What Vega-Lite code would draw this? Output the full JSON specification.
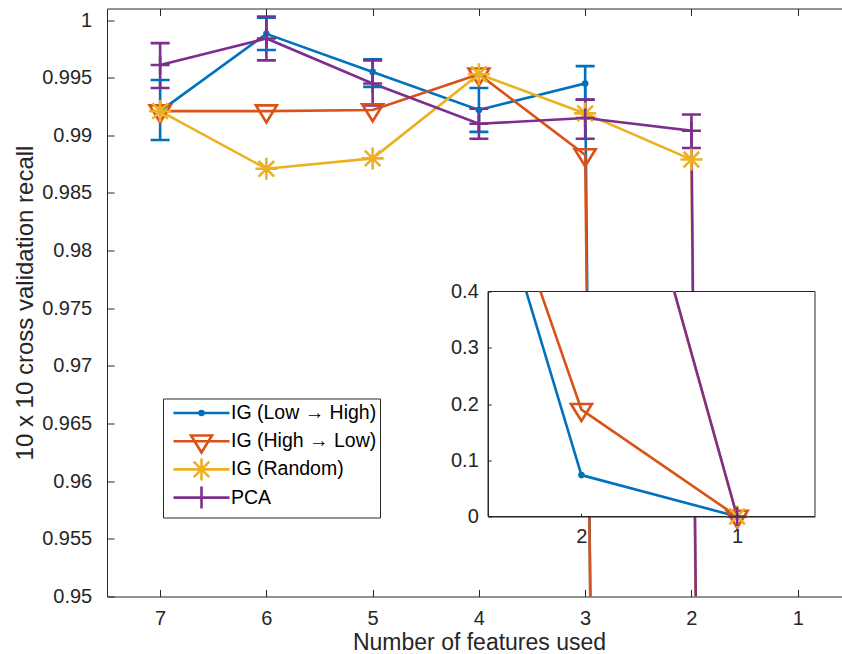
{
  "$schema": "https://vega.github.io/schema/vega-lite/v6.json",
  "autosize": {"type": "pad"},
  "padding": {"left": 13, "top": 7.5, "right": 0, "bottom": 0},
  "background": "white",
  "bounds": "flush",
  "spacing": 0,
  "config": {
    "view": {"stroke": null},
    "font": "Liberation Sans",
    "axis": {
      "domainColor": "#262626", "tickColor": "#262626", "labelColor": "#262626", "titleColor": "#262626",
      "labelFont": "Liberation Sans", "titleFont": "Liberation Sans", "labelFontSize": 20, "titleFontSize": 24,
      "titleFontWeight": "normal", "grid": false, "domainWidth": 1, "tickWidth": 1,
      "labelFlush": false, "labelOverlap": false
    },
    "line": {"strokeWidth": 2.6},
    "rule": {"strokeWidth": 2.6},
    "point": {"strokeWidth": 2.6, "filled": false, "opacity": 1}
  },
  "datasets": {
    "recall": [
      {"series": "IG (Low → High)", "n": 7, "recall": 0.9921, "lo": 0.9896, "hi": 0.9948},
      {"series": "IG (Low → High)", "n": 6, "recall": 0.9988, "lo": 0.9974, "hi": 1.0002},
      {"series": "IG (Low → High)", "n": 5, "recall": 0.9955, "lo": 0.9942, "hi": 0.9966},
      {"series": "IG (Low → High)", "n": 4, "recall": 0.9922, "lo": 0.9903, "hi": 0.9941},
      {"series": "IG (Low → High)", "n": 3, "recall": 0.9945, "lo": 0.9931, "hi": 0.996},
      {"series": "IG (Low → High)", "n": 2, "recall": 0.0736, "lo": null, "hi": null},
      {"series": "IG (Low → High)", "n": 1, "recall": 0, "lo": null, "hi": null},
      {"series": "IG (High → Low)", "n": 7, "recall": 0.9921, "lo": null, "hi": null},
      {"series": "IG (High → Low)", "n": 6, "recall": 0.9921, "lo": null, "hi": null},
      {"series": "IG (High → Low)", "n": 5, "recall": 0.9922, "lo": null, "hi": null},
      {"series": "IG (High → Low)", "n": 4, "recall": 0.9953, "lo": null, "hi": null},
      {"series": "IG (High → Low)", "n": 3, "recall": 0.9883, "lo": null, "hi": null},
      {"series": "IG (High → Low)", "n": 2, "recall": 0.19, "lo": null, "hi": null},
      {"series": "IG (High → Low)", "n": 1, "recall": 0, "lo": null, "hi": null},
      {"series": "IG (Random)", "n": 7, "recall": 0.9921, "lo": null, "hi": null},
      {"series": "IG (Random)", "n": 6, "recall": 0.9871, "lo": null, "hi": null},
      {"series": "IG (Random)", "n": 5, "recall": 0.988, "lo": null, "hi": null},
      {"series": "IG (Random)", "n": 4, "recall": 0.9953, "lo": null, "hi": null},
      {"series": "IG (Random)", "n": 3, "recall": 0.9919, "lo": null, "hi": null},
      {"series": "IG (Random)", "n": 2, "recall": 0.9879, "lo": null, "hi": null},
      {"series": "IG (Random)", "n": 1, "recall": 0, "lo": null, "hi": null},
      {"series": "PCA", "n": 7, "recall": 0.9961, "lo": 0.9941, "hi": 0.998},
      {"series": "PCA", "n": 6, "recall": 0.9984, "lo": 0.9965, "hi": 1.0003},
      {"series": "PCA", "n": 5, "recall": 0.9945, "lo": 0.9926, "hi": 0.9965},
      {"series": "PCA", "n": 4, "recall": 0.991, "lo": 0.9897, "hi": 0.9923},
      {"series": "PCA", "n": 3, "recall": 0.9915, "lo": 0.9897, "hi": 0.9931},
      {"series": "PCA", "n": 2, "recall": 0.9904, "lo": 0.9889, "hi": 0.9918},
      {"series": "PCA", "n": 1, "recall": 0, "lo": null, "hi": null}
    ]
  },
  "resolve": {"scale": {"color": "independent"}},
  "vconcat": [
    {
      "width": 735,
      "height": 283,
      "data": {"name": "recall"},
      "layer": [
        {
          "mark": {"type": "line", "clip": true},
          "encoding": {
            "x": {"field": "n", "type": "quantitative",
              "scale": {"domain": [0.583, 7.5], "reverse": true, "nice": false, "zero": false},
              "axis": {"orient": "top", "values": [1, 2, 3, 4, 5, 6, 7], "labels": false, "tickSize": -7, "title": null}},
            "y": {"field": "recall", "type": "quantitative",
              "scale": {"domain": [0.976454, 1.001], "nice": false, "zero": false},
              "axis": {"values": [0.98, 0.985, 0.99, 0.995, 1], "format": "~g",
                "tickSize": -7, "labelPadding": 22.3, "title": "10 x 10 cross validation recall",
                "titleX": -75, "titleY": 294, "titleAngle": -90, "titleAlign": "center", "titleBaseline": "alphabetic"}},
            "color": {"field": "series", "type": "nominal", "legend": null,
              "scale": {"domain": ["IG (Low → High)", "IG (High → Low)", "IG (Random)", "PCA"], "range": ["#0072BD", "#D95319", "#EDB120", "#7E2F8E"]}}
          }
        },
        {
          "transform": [{"filter": "datum.lo != null"}],
          "mark": {"type": "rule", "clip": true},
          "encoding": {
            "x": {"field": "n", "type": "quantitative", "scale": {"domain": [0.583, 7.5], "reverse": true, "nice": false, "zero": false}},
            "y": {"field": "lo", "type": "quantitative", "scale": {"domain": [0.976454, 1.001], "nice": false, "zero": false}},
            "y2": {"field": "hi"},
            "color": {"field": "series", "type": "nominal", "legend": null}
          }
        },
        {
          "transform": [{"filter": "datum.lo != null"}],
          "mark": {"type": "point", "clip": true, "size": 361, "shape": "M-1,0H1"},
          "encoding": {
            "x": {"field": "n", "type": "quantitative", "scale": {"domain": [0.583, 7.5], "reverse": true, "nice": false, "zero": false}},
            "y": {"field": "lo", "type": "quantitative", "scale": {"domain": [0.976454, 1.001], "nice": false, "zero": false}},
            "color": {"field": "series", "type": "nominal", "legend": null}
          }
        },
        {
          "transform": [{"filter": "datum.hi != null"}],
          "mark": {"type": "point", "clip": true, "size": 361, "shape": "M-1,0H1"},
          "encoding": {
            "x": {"field": "n", "type": "quantitative", "scale": {"domain": [0.583, 7.5], "reverse": true, "nice": false, "zero": false}},
            "y": {"field": "hi", "type": "quantitative", "scale": {"domain": [0.976454, 1.001], "nice": false, "zero": false}},
            "color": {"field": "series", "type": "nominal", "legend": null}
          }
        },
        {
          "transform": [{"filter": "datum.series === 'IG (Low → High)'"}],
          "mark": {"type": "point", "clip": true, "size": 400, "color": "#0072BD", "shape": "M-0.2,0A0.2,0.2,0,1,1,0.2,0A0.2,0.2,0,1,1,-0.2,0"},
          "encoding": {
            "x": {"field": "n", "type": "quantitative", "scale": {"domain": [0.583, 7.5], "reverse": true, "nice": false, "zero": false}},
            "y": {"field": "recall", "type": "quantitative", "scale": {"domain": [0.976454, 1.001], "nice": false, "zero": false}}
          }
        },
        {
          "transform": [{"filter": "datum.series === 'IG (High → Low)'"}],
          "mark": {"type": "point", "clip": true, "size": 400, "color": "#D95319", "shape": "M-1.05,-0.57L1.05,-0.57L0,1.13Z"},
          "encoding": {
            "x": {"field": "n", "type": "quantitative", "scale": {"domain": [0.583, 7.5], "reverse": true, "nice": false, "zero": false}},
            "y": {"field": "recall", "type": "quantitative", "scale": {"domain": [0.976454, 1.001], "nice": false, "zero": false}}
          }
        },
        {
          "transform": [{"filter": "datum.series === 'IG (Random)'"}],
          "mark": {"type": "point", "clip": true, "size": 400, "color": "#EDB120", "shape": "M-1.1,0H1.1M0,-1.1V1.1M-0.78,-0.78L0.78,0.78M-0.78,0.78L0.78,-0.78"},
          "encoding": {
            "x": {"field": "n", "type": "quantitative", "scale": {"domain": [0.583, 7.5], "reverse": true, "nice": false, "zero": false}},
            "y": {"field": "recall", "type": "quantitative", "scale": {"domain": [0.976454, 1.001], "nice": false, "zero": false}}
          }
        },
        {
          "transform": [{"filter": "datum.series === 'PCA'"}],
          "mark": {"type": "point", "clip": true, "size": 400, "color": "#7E2F8E", "shape": "M-0.95,0H0.95M0,-0.95V0.95"},
          "encoding": {
            "x": {"field": "n", "type": "quantitative", "scale": {"domain": [0.583, 7.5], "reverse": true, "nice": false, "zero": false}},
            "y": {"field": "recall", "type": "quantitative", "scale": {"domain": [0.976454, 1.001], "nice": false, "zero": false}}
          }
        }
      ]
    },
    {
      "width": 735,
      "height": 305,
      "resolve": {"scale": {"x": "independent", "y": "independent"}},
      "layer": [
        {
          "data": {"name": "recall"},
          "layer": [
            {
              "mark": {"type": "line", "clip": true},
              "encoding": {
                "x": {"field": "n", "type": "quantitative",
                  "scale": {"domain": [0.583, 7.5], "reverse": true, "nice": false, "zero": false},
                  "axis": {"orient": "bottom", "values": [1, 2, 3, 4, 5, 6, 7], "format": "d", "tickSize": -7, "labelPadding": 19,
                    "title": "Number of features used", "titleFontSize": 23, "titleX": 372, "titleY": 52.5, "titleBaseline": "alphabetic", "titleAlign": "center"}},
                "y": {"field": "recall", "type": "quantitative",
                  "scale": {"domain": [0.95, 0.976454], "nice": false, "zero": false},
                  "axis": {"orient": "left", "values": [0.95, 0.955, 0.96, 0.965, 0.97, 0.975], "format": "~g",
                    "tickSize": -7, "labelPadding": 22.3, "title": null}},
                "color": {"field": "series", "type": "nominal",
                  "scale": {"domain": ["IG (Low → High)", "IG (High → Low)", "IG (Random)", "PCA"], "range": ["#0072BD", "#D95319", "#EDB120", "#7E2F8E"]},
                  "legend": {
                    "orient": "none", "legendX": 56, "legendY": 107, "title": null,
                    "strokeColor": "#262626", "fillColor": "white", "padding": 3,
                    "labelFont": "Liberation Sans", "labelFontSize": 19.5, "labelColor": "black",
                    "symbolSize": 400, "symbolStrokeWidth": 2.6, "symbolFillColor": "transparent",
                    "symbolType": {"expr": "datum.value === 'PCA' ? 'M0,-1.1M0,1.1M-2.8,0H2.8M0,-1.1V1.1' : datum.value === 'IG (Random)' ? 'M0,-1.1M0,1.1M-2.8,0H2.8M0,-1.1V1.1M-0.78,-0.78L0.78,0.78M-0.78,0.78L0.78,-0.78' : datum.value === 'IG (High → Low)' ? 'M0,-1.1M0,1.1M-2.8,0H2.8M-1.05,-0.57L1.05,-0.57L0,1.13Z' : 'M0,-1.1M0,1.1M-2.8,0H2.8M-0.2,0A0.2,0.2,0,1,1,0.2,0A0.2,0.2,0,1,1,-0.2,0'"},
                    "symbolOffset": 24, "labelOffset": 18, "rowPadding": -4.8
                  }}
              }
            },
            {
              "transform": [{"filter": "datum.lo != null"}],
              "mark": {"type": "rule", "clip": true},
              "encoding": {
                "x": {"field": "n", "type": "quantitative", "scale": {"domain": [0.583, 7.5], "reverse": true, "nice": false, "zero": false}},
                "y": {"field": "lo", "type": "quantitative", "scale": {"domain": [0.95, 0.976454], "nice": false, "zero": false}},
                "y2": {"field": "hi"},
                "color": {"field": "series", "type": "nominal", "legend": null}
              }
            },
            {
              "transform": [{"filter": "datum.series === 'IG (Low → High)'"}],
              "mark": {"type": "point", "clip": true, "size": 400, "color": "#0072BD", "shape": "M-0.2,0A0.2,0.2,0,1,1,0.2,0A0.2,0.2,0,1,1,-0.2,0"},
              "encoding": {
                "x": {"field": "n", "type": "quantitative", "scale": {"domain": [0.583, 7.5], "reverse": true, "nice": false, "zero": false}},
                "y": {"field": "recall", "type": "quantitative", "scale": {"domain": [0.95, 0.976454], "nice": false, "zero": false}}
              }
            },
            {
              "transform": [{"filter": "datum.series === 'IG (High → Low)'"}],
              "mark": {"type": "point", "clip": true, "size": 400, "color": "#D95319", "shape": "M-1.05,-0.57L1.05,-0.57L0,1.13Z"},
              "encoding": {
                "x": {"field": "n", "type": "quantitative", "scale": {"domain": [0.583, 7.5], "reverse": true, "nice": false, "zero": false}},
                "y": {"field": "recall", "type": "quantitative", "scale": {"domain": [0.95, 0.976454], "nice": false, "zero": false}}
              }
            },
            {
              "transform": [{"filter": "datum.series === 'IG (Random)'"}],
              "mark": {"type": "point", "clip": true, "size": 400, "color": "#EDB120", "shape": "M-1.1,0H1.1M0,-1.1V1.1M-0.78,-0.78L0.78,0.78M-0.78,0.78L0.78,-0.78"},
              "encoding": {
                "x": {"field": "n", "type": "quantitative", "scale": {"domain": [0.583, 7.5], "reverse": true, "nice": false, "zero": false}},
                "y": {"field": "recall", "type": "quantitative", "scale": {"domain": [0.95, 0.976454], "nice": false, "zero": false}}
              }
            },
            {
              "transform": [{"filter": "datum.series === 'PCA'"}],
              "mark": {"type": "point", "clip": true, "size": 400, "color": "#7E2F8E", "shape": "M-0.95,0H0.95M0,-0.95V0.95"},
              "encoding": {
                "x": {"field": "n", "type": "quantitative", "scale": {"domain": [0.583, 7.5], "reverse": true, "nice": false, "zero": false}},
                "y": {"field": "recall", "type": "quantitative", "scale": {"domain": [0.95, 0.976454], "nice": false, "zero": false}}
              }
            }
          ]
        },
        {
          "layer": [
            {
              "data": {"values": [{}]},
              "mark": {"type": "rect", "fill": "white", "stroke": "#262626", "strokeWidth": 1},
              "encoding": {
                "x": {"datum": 0.5, "type": "quantitative", "scale": {"domain": [0.5, 2.6], "range": [381, 708], "reverse": true, "nice": false, "zero": false}},
                "x2": {"datum": 2.6},
                "y": {"datum": 0, "type": "quantitative", "scale": {"domain": [0, 0.4], "range": [225, 0], "nice": false, "zero": false}},
                "y2": {"datum": 0.4}
              }
            },
            {
              "data": {"name": "recall"},
              "mark": {"type": "line", "clip": true},
              "encoding": {
                "x": {"field": "n", "type": "quantitative",
                  "scale": {"domain": [0.5, 2.6], "range": [381, 708], "reverse": true, "nice": false, "zero": false},
                  "axis": {"orient": "bottom", "offset": -80, "values": [1, 2], "format": "d", "tickSize": -3.3, "labelPadding": 13, "title": null, "zindex": 1}},
                "y": {"field": "recall", "type": "quantitative",
                  "scale": {"domain": [0, 0.4], "range": [225, 0], "nice": false, "zero": false},
                  "axis": {"orient": "left", "offset": -381, "values": [0, 0.1, 0.2, 0.3, 0.4], "format": "~g", "tickSize": -3.3, "labelPadding": 13, "title": null, "zindex": 1}},
                "color": {"field": "series", "type": "nominal", "legend": null}
              }
            },
            {
              "data": {"name": "recall"},
              "transform": [{"filter": "datum.recall <= 0.4 && datum.series === 'IG (Low → High)'"}],
              "mark": {"type": "point", "size": 400, "color": "#0072BD", "shape": "M-0.2,0A0.2,0.2,0,1,1,0.2,0A0.2,0.2,0,1,1,-0.2,0"},
              "encoding": {
                "x": {"field": "n", "type": "quantitative", "scale": {"domain": [0.5, 2.6], "range": [381, 708], "reverse": true, "nice": false, "zero": false}},
                "y": {"field": "recall", "type": "quantitative", "scale": {"domain": [0, 0.4], "range": [225, 0], "nice": false, "zero": false}}
              }
            },
            {
              "data": {"name": "recall"},
              "transform": [{"filter": "datum.recall <= 0.4 && datum.series === 'IG (High → Low)'"}],
              "mark": {"type": "point", "size": 400, "color": "#D95319", "shape": "M-1.05,-0.57L1.05,-0.57L0,1.13Z"},
              "encoding": {
                "x": {"field": "n", "type": "quantitative", "scale": {"domain": [0.5, 2.6], "range": [381, 708], "reverse": true, "nice": false, "zero": false}},
                "y": {"field": "recall", "type": "quantitative", "scale": {"domain": [0, 0.4], "range": [225, 0], "nice": false, "zero": false}}
              }
            },
            {
              "data": {"name": "recall"},
              "transform": [{"filter": "datum.recall <= 0.4 && datum.series === 'IG (Random)'"}],
              "mark": {"type": "point", "size": 400, "color": "#EDB120", "shape": "M-1.1,0H1.1M0,-1.1V1.1M-0.78,-0.78L0.78,0.78M-0.78,0.78L0.78,-0.78"},
              "encoding": {
                "x": {"field": "n", "type": "quantitative", "scale": {"domain": [0.5, 2.6], "range": [381, 708], "reverse": true, "nice": false, "zero": false}},
                "y": {"field": "recall", "type": "quantitative", "scale": {"domain": [0, 0.4], "range": [225, 0], "nice": false, "zero": false}}
              }
            },
            {
              "data": {"name": "recall"},
              "transform": [{"filter": "datum.recall <= 0.4 && datum.series === 'PCA'"}],
              "mark": {"type": "point", "size": 400, "color": "#7E2F8E", "shape": "M-0.95,0H0.95M0,-0.95V0.95"},
              "encoding": {
                "x": {"field": "n", "type": "quantitative", "scale": {"domain": [0.5, 2.6], "range": [381, 708], "reverse": true, "nice": false, "zero": false}},
                "y": {"field": "recall", "type": "quantitative", "scale": {"domain": [0, 0.4], "range": [225, 0], "nice": false, "zero": false}}
              }
            }
          ]
        }
      ]
    }
  ]
}
